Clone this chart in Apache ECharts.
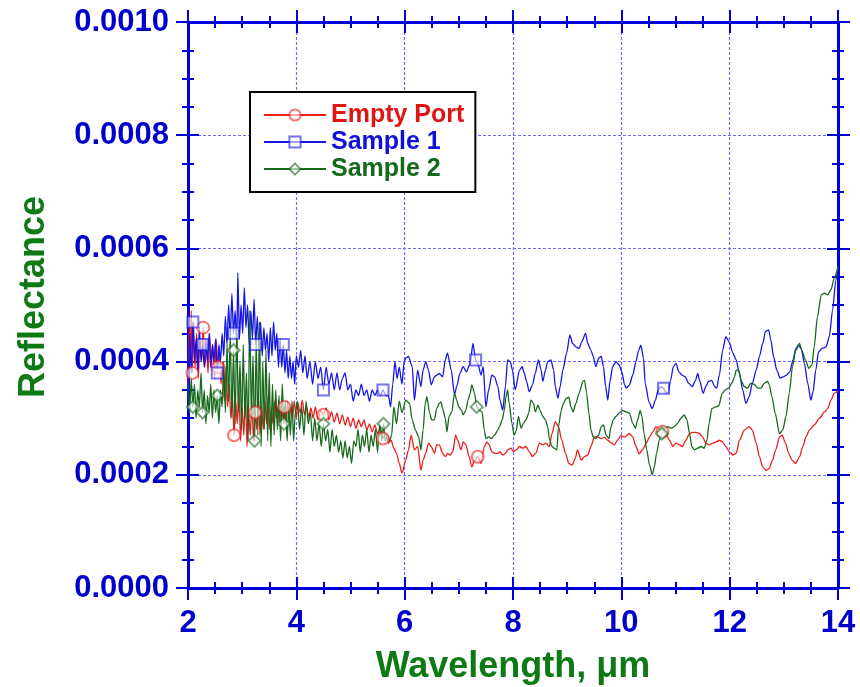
<!DOCTYPE html>
<html>
<head>
<meta charset="utf-8">
<title>Reflectance</title>
<script src="https://cdn.jsdelivr.net/npm/echarts@6/dist/echarts.min.js"></script>
<style>
    html, body { margin: 0; padding: 0; background: #fff; }
    #chart { width: 860px; height: 687px; }
</style>
</head>
<body>
<div id="chart"></div>
<script>
// wavelengths (um) where the hollow markers sit on every curve
var markerWavelengths = [2.09, 2.28, 2.55, 2.85, 3.24, 3.77, 4.49, 5.60, 7.32, 10.77];

// [wavelength um, reflectance]
var emptyPort = [
    [2.00,0.00036],[2.02,0.00046],[2.04,0.00040],[2.06,0.00049],[2.08,0.00038],[2.10,0.00047],[2.13,0.00039],[2.16,0.00045],
    [2.19,0.00037],[2.22,0.00044],[2.25,0.00040],[2.28,0.00046],[2.31,0.00039],[2.34,0.00043],[2.37,0.00038],[2.40,0.00045],
    [2.43,0.00039],[2.46,0.00043],[2.49,0.00037],[2.52,0.00044],[2.55,0.00039],[2.58,0.00042],[2.61,0.00036],[2.64,0.00040],
    [2.67,0.00033],[2.70,0.00039],[2.73,0.00032],[2.76,0.00036],[2.79,0.00030],[2.82,0.00034],[2.85,0.00027],[2.88,0.00033],
    [2.91,0.00029],[2.94,0.00035],[2.97,0.00026],[3.00,0.00032],[3.03,0.00027],[3.06,0.00034],[3.09,0.00025],[3.12,0.00031],
    [3.15,0.00027],[3.18,0.00033],[3.21,0.00026],[3.24,0.00031],[3.27,0.00028],[3.30,0.00034],[3.33,0.00027],[3.36,0.00032],
    [3.39,0.00028],[3.42,0.00033],[3.45,0.00029],[3.48,0.00034],[3.51,0.00028],[3.54,0.00032],[3.57,0.00029],[3.60,0.00033],
    [3.63,0.00030],[3.66,0.00032],[3.69,0.00029],[3.72,0.00033],[3.75,0.00030],[3.78,0.00032],[3.81,0.00029],[3.84,0.00033],
    [3.87,0.00030],[3.90,0.00032],[3.93,0.00030],[3.96,0.00033],[4.00,0.00030],
    [4.03,0.000327],[4.07,0.000309],[4.11,0.000332],[4.15,0.000306],[4.19,0.00032],[4.23,0.000302],[4.27,0.000318],[4.31,0.0003],
    [4.35,0.00032],[4.40,0.000297],[4.45,0.000314],[4.50,0.000306],[4.55,0.000318],[4.60,0.000297],[4.65,0.000311],[4.70,0.000293],
    [4.75,0.000309],[4.80,0.00029],[4.85,0.000306],[4.90,0.000288],[4.95,0.000302],[5.00,0.000285],[5.05,0.0003],[5.10,0.000282],
    [5.15,0.000297],[5.20,0.000285],[5.25,0.000297],[5.30,0.000279],[5.35,0.00029],[5.40,0.000276],[5.45,0.000288],[5.50,0.000273],
    [5.55,0.000282],[5.60,0.000264],[5.65,0.000273],[5.70,0.000256],[5.75,0.000261],[5.80,0.000247],[5.85,0.000238],[5.90,0.00022],
    [5.95,0.000203],
    [6.02,0.000226],[6.07,0.000244],[6.12,0.00027],[6.18,0.000244],[6.24,0.00025],[6.30,0.000208],[6.34,0.000226],[6.39,0.000238],
    [6.44,0.000256],[6.49,0.00025],[6.55,0.000238],[6.59,0.000253],[6.64,0.000253],[6.70,0.000238],[6.75,0.000232],[6.79,0.000238],
    [6.84,0.000235],[6.89,0.000241],[6.94,0.00027],[6.98,0.000261],[7.04,0.000244],[7.08,0.000258],[7.13,0.000253],[7.19,0.000232],
    [7.24,0.000214],[7.29,0.000226],[7.35,0.000232],[7.41,0.00022],[7.47,0.00025],[7.52,0.000258],[7.56,0.000253],[7.61,0.000241],
    [7.66,0.000238],[7.72,0.000238],[7.76,0.000241],[7.81,0.000235],[7.86,0.000238],[7.90,0.000244],[7.96,0.000247],[8.01,0.000241],
    [8.06,0.000244],[8.12,0.00025],[8.18,0.000247],[8.24,0.00025],[8.30,0.000241],[8.36,0.000232],[8.42,0.000238],[8.49,0.000256],
    [8.55,0.000253],[8.61,0.000256],[8.67,0.00025],[8.72,0.000273],[8.78,0.000294],[8.84,0.000285],[8.90,0.000261],[8.97,0.000238],
    [9.03,0.00022],[9.09,0.000217],[9.15,0.000229],[9.19,0.000244],[9.26,0.000226],[9.32,0.000232],[9.38,0.000235],[9.44,0.00025],
    [9.50,0.000267],[9.56,0.000267],[9.62,0.000264],[9.69,0.000266],[9.75,0.000261],[9.81,0.000257],[9.87,0.000253],[9.93,0.000261],
    [9.99,0.000269],[10.06,0.000267],[10.15,0.000273],[10.21,0.000267],[10.27,0.00025],[10.33,0.000237],[10.39,0.000244],[10.46,0.000256],
    [10.52,0.000267],[10.58,0.000276],[10.64,0.000285],[10.70,0.000282],[10.76,0.000276],[10.82,0.000273],[10.89,0.000261],[10.95,0.00025],
    [11.01,0.000256],[11.07,0.000253],[11.13,0.00025],[11.19,0.000261],[11.26,0.000273],[11.32,0.000275],[11.38,0.000275],[11.44,0.000273],
    [11.50,0.000267],[11.56,0.000256],[11.62,0.000253],[11.69,0.000256],[11.75,0.000258],[11.81,0.000261],[11.87,0.000258],[11.93,0.00025],
    [11.99,0.000241],[12.06,0.000235],[12.12,0.000238],[12.18,0.000261],[12.27,0.000279],[12.36,0.000285],[12.42,0.000279],[12.49,0.000256],
    [12.55,0.000232],[12.61,0.000214],[12.67,0.000208],[12.73,0.000211],[12.79,0.000226],[12.85,0.000244],[12.92,0.000267],[12.97,0.00027],
    [13.03,0.000256],[13.09,0.000238],[13.15,0.000226],[13.22,0.00022],[13.29,0.000232],[13.35,0.00025],[13.41,0.000267],[13.47,0.000279],
    [13.56,0.000288],[13.66,0.0003],[13.75,0.000311],[13.81,0.000317],[13.87,0.000332],[13.93,0.000344],[14.00,0.000348]
];

var sample1 = [
    [2.00,0.00035],[2.03,0.00045],[2.06,0.00038],[2.09,0.00047],[2.12,0.00040],[2.15,0.00044],[2.18,0.00038],[2.21,0.00046],
    [2.24,0.00040],[2.27,0.00043],[2.30,0.00039],[2.33,0.00044],[2.36,0.00040],[2.39,0.00045],[2.42,0.00039],[2.45,0.00043],
    [2.48,0.00040],[2.51,0.00044],[2.54,0.00038],[2.57,0.00043],[2.60,0.00040],[2.63,0.00045],[2.66,0.00041],[2.69,0.00048],
    [2.72,0.00043],[2.75,0.00050],[2.78,0.00044],[2.81,0.00052],[2.84,0.00045],[2.87,0.00049],[2.90,0.00043],[2.92,0.000557],
    [2.95,0.00044],[2.98,0.00050],[3.01,0.00045],[3.04,0.00053],[3.07,0.00046],[3.10,0.00050],[3.13,0.00043],[3.16,0.00049],
    [3.19,0.00044],[3.22,0.00051],[3.25,0.00043],[3.28,0.00048],[3.31,0.00042],[3.34,0.00047],[3.37,0.00041],[3.40,0.00046],
    [3.43,0.00042],[3.46,0.00045],[3.49,0.00040],[3.52,0.00046],[3.55,0.00041],[3.58,0.00047],[3.61,0.00042],[3.64,0.00045],
    [3.67,0.00039],[3.70,0.00044],[3.73,0.00039],[3.76,0.00043],[3.79,0.00038],[3.82,0.00042],[3.85,0.00037],[3.88,0.00041],
    [3.91,0.00037],[3.94,0.00040],[3.97,0.00036],[4.00,0.00041],
    [4.04,0.00039],[4.08,0.00042],[4.12,0.00038],[4.16,0.00041],[4.20,0.00037],[4.25,0.00040],[4.30,0.00036],[4.35,0.00040],
    [4.40,0.00037],[4.45,0.00039],[4.50,0.00035],[4.55,0.00039],[4.60,0.00036],[4.65,0.00038],[4.70,0.00035],[4.75,0.00038],
    [4.80,0.00035],[4.85,0.00037],[4.90,0.00038],[4.95,0.00035],[5.00,0.00036],[5.05,0.00033],[5.10,0.00035],[5.15,0.00034],
    [5.20,0.00036],[5.25,0.00034],[5.30,0.00035],[5.35,0.00033],[5.40,0.00035],[5.45,0.00034],[5.50,0.00035],[5.55,0.00034],
    [5.60,0.00035],[5.65,0.00034],[5.70,0.00034],[5.74,0.00032],[5.78,0.00036],[5.82,0.00040],[5.86,0.00037],[5.90,0.00039],
    [5.95,0.00036],[5.99,0.00040],
    [6.02,0.000406],[6.07,0.000409],[6.14,0.000391],[6.18,0.000332],[6.24,0.000385],[6.30,0.000356],[6.34,0.000385],[6.39,0.0004],
    [6.44,0.000385],[6.49,0.000359],[6.55,0.000373],[6.59,0.000376],[6.64,0.000379],[6.70,0.000373],[6.75,0.000403],[6.79,0.000415],
    [6.86,0.000385],[6.92,0.000341],[6.96,0.000356],[7.02,0.000379],[7.08,0.000391],[7.14,0.000382],[7.21,0.000397],[7.26,0.000432],
    [7.31,0.000403],[7.35,0.000397],[7.41,0.000376],[7.45,0.000391],[7.50,0.00032],[7.55,0.00035],[7.61,0.000376],[7.66,0.000373],
    [7.72,0.000356],[7.76,0.000332],[7.81,0.000314],[7.86,0.000356],[7.90,0.000403],[7.95,0.0004],[7.99,0.000385],[8.04,0.00035],
    [8.12,0.000385],[8.17,0.000391],[8.21,0.000379],[8.25,0.000365],[8.30,0.000347],[8.36,0.000359],[8.41,0.000379],[8.47,0.000403],
    [8.52,0.000385],[8.55,0.000365],[8.60,0.000385],[8.64,0.0004],[8.70,0.000403],[8.75,0.000385],[8.78,0.000356],[8.83,0.000335],
    [8.87,0.000356],[8.92,0.000385],[8.99,0.000415],[9.05,0.000447],[9.10,0.000432],[9.16,0.000426],[9.22,0.000423],[9.27,0.000435],
    [9.34,0.00045],[9.38,0.000432],[9.44,0.00042],[9.48,0.000409],[9.53,0.000391],[9.58,0.000406],[9.63,0.000409],[9.67,0.000391],
    [9.71,0.000356],[9.75,0.000332],[9.79,0.000365],[9.84,0.000391],[9.90,0.0004],[9.96,0.000394],[10.01,0.000382],[10.06,0.000359],
    [10.09,0.000353],[10.15,0.000359],[10.21,0.000376],[10.27,0.0004],[10.32,0.00042],[10.36,0.000429],[10.41,0.000406],[10.44,0.000362],
    [10.51,0.000329],[10.57,0.000317],[10.63,0.000332],[10.68,0.00035],[10.73,0.000356],[10.78,0.000353],[10.81,0.000347],[10.86,0.000344],
    [10.91,0.000367],[10.96,0.000391],[11.01,0.000397],[11.06,0.000382],[11.12,0.000376],[11.18,0.000373],[11.24,0.000362],[11.31,0.000356],
    [11.37,0.000367],[11.41,0.000379],[11.45,0.000365],[11.51,0.000344],[11.56,0.000356],[11.61,0.000365],[11.67,0.000367],[11.72,0.000356],
    [11.76,0.000353],[11.81,0.000376],[11.87,0.00042],[11.93,0.000444],[11.99,0.000435],[12.06,0.000415],
    [12.12,0.000403],[12.18,0.000379],[12.24,0.00035],[12.30,0.000326],[12.36,0.000338],[12.42,0.000362],[12.49,0.000385],[12.55,0.000409],
    [12.61,0.000432],[12.66,0.000453],[12.72,0.000456],[12.76,0.000438],[12.81,0.000409],[12.87,0.000385],[12.93,0.000371],[12.99,0.000373],
    [13.05,0.000376],[13.11,0.000382],[13.17,0.000403],[13.22,0.000423],[13.27,0.000429],[13.32,0.000423],[13.38,0.000397],[13.44,0.000362],
    [13.50,0.000332],[13.54,0.000347],[13.59,0.000385],[13.64,0.000417],[13.70,0.000423],[13.78,0.000426],[13.84,0.000444],[13.90,0.000491],
    [13.96,0.000544],[14.00,0.000565]
];

var sample2 = [
    [2.00,0.00036],[2.03,0.00031],[2.06,0.00037],[2.09,0.00032],[2.12,0.00036],[2.15,0.00030],[2.18,0.00035],[2.21,0.00032],
    [2.24,0.00038],[2.27,0.00031],[2.30,0.00035],[2.33,0.00029],[2.36,0.00034],[2.39,0.00031],[2.42,0.00036],[2.45,0.00030],
    [2.48,0.00035],[2.51,0.00031],[2.54,0.00034],[2.57,0.00029],[2.60,0.00035],[2.63,0.00032],[2.66,0.00040],[2.69,0.00031],
    [2.72,0.00043],[2.75,0.00033],[2.78,0.00045],[2.81,0.00030],[2.84,0.00042],[2.87,0.00029],[2.90,0.00046],[2.93,0.00031],
    [2.96,0.00040],[2.99,0.00028],[3.02,0.00043],[3.05,0.00030],[3.08,0.00038],[3.11,0.00026],[3.14,0.00049],[3.17,0.00030],
    [3.20,0.00041],[3.23,0.00026],[3.26,0.00044],[3.29,0.00027],[3.32,0.00047],[3.35,0.00025],[3.38,0.00040],[3.41,0.00028],
    [3.44,0.00042],[3.47,0.00026],[3.50,0.00038],[3.53,0.00025],[3.56,0.00036],[3.59,0.00027],[3.62,0.00035],[3.65,0.00028],
    [3.68,0.00034],[3.71,0.00026],[3.74,0.00036],[3.77,0.00029],[3.80,0.00033],[3.83,0.00026],[3.86,0.00032],[3.89,0.00027],
    [3.92,0.00033],[3.95,0.00026],[3.98,0.00031],
    [4.02,0.00033],[4.06,0.00028],[4.10,0.00032],[4.14,0.00027],[4.18,0.00033],[4.22,0.00029],[4.26,0.00031],[4.30,0.00026],
    [4.34,0.00030],[4.38,0.00026],[4.42,0.00029],[4.46,0.00025],[4.50,0.00029],[4.54,0.00026],[4.58,0.00028],[4.62,0.00024],
    [4.66,0.00028],[4.70,0.00025],[4.74,0.00027],[4.78,0.00024],[4.82,0.00026],[4.86,0.00023],[4.90,0.00026],[4.94,0.00023],
    [4.98,0.00025],[5.02,0.00022],[5.06,0.00026],[5.10,0.00025],[5.14,0.00028],[5.18,0.00024],[5.22,0.00027],[5.26,0.00025],
    [5.30,0.00028],[5.34,0.00024],[5.38,0.00027],[5.42,0.00025],[5.46,0.00028],[5.50,0.00024],[5.54,0.00029],[5.58,0.00026],
    [5.61,0.00029],[5.64,0.00026],[5.68,0.00027],[5.72,0.00026],[5.76,0.00027],[5.80,0.00032],[5.85,0.00029],[5.90,0.00033],
    [5.95,0.00031],
    [6.02,0.000332],[6.09,0.000326],[6.14,0.000297],[6.20,0.000279],[6.26,0.000267],[6.30,0.000244],[6.34,0.000279],[6.38,0.000326],
    [6.41,0.000338],[6.46,0.000309],[6.50,0.000297],[6.55,0.000297],[6.59,0.000317],[6.64,0.000326],[6.67,0.000329],[6.70,0.000317],
    [6.75,0.0003],[6.78,0.000276],[6.82,0.000303],[6.87,0.000311],[6.92,0.000344],[6.96,0.000332],[7.00,0.00032],[7.05,0.000314],
    [7.08,0.000306],[7.13,0.000314],[7.17,0.000332],[7.21,0.000344],[7.24,0.000359],[7.29,0.000344],[7.33,0.00032],[7.38,0.000314],
    [7.43,0.000311],[7.47,0.000279],[7.50,0.000264],[7.55,0.000267],[7.60,0.000264],[7.66,0.00027],[7.72,0.000279],[7.75,0.000285],
    [7.80,0.000297],[7.84,0.000314],[7.87,0.000338],[7.90,0.00035],[7.93,0.000326],[7.98,0.000291],[8.02,0.00027],
    [8.06,0.000278],[8.10,0.000303],[8.15,0.000282],[8.19,0.000291],[8.24,0.000297],[8.29,0.000309],[8.33,0.000332],[8.38,0.000326],
    [8.41,0.000311],[8.46,0.000323],[8.50,0.000314],[8.55,0.000303],[8.60,0.000297],[8.64,0.000285],[8.67,0.000264],[8.72,0.00025],
    [8.76,0.000247],[8.81,0.000244],[8.84,0.000285],[8.89,0.000314],[8.93,0.000326],[8.98,0.000335],[9.03,0.000337],[9.07,0.00032],
    [9.11,0.000311],[9.16,0.000326],[9.22,0.000344],[9.29,0.000365],[9.32,0.000367],[9.36,0.000344],[9.40,0.000309],[9.44,0.000279],
    [9.48,0.000267],[9.53,0.000264],[9.58,0.00027],[9.63,0.000285],[9.67,0.000288],[9.72,0.00027],[9.77,0.000264],[9.81,0.000285],
    [9.85,0.000297],[9.90,0.000303],[9.96,0.000309],[10.02,0.000314],[10.09,0.000311],
    [10.15,0.000309],[10.21,0.000291],[10.26,0.000282],[10.30,0.000297],[10.35,0.000314],[10.38,0.000303],[10.42,0.000273],[10.47,0.000244],
    [10.52,0.000217],[10.57,0.0002],[10.61,0.000214],[10.65,0.000238],[10.70,0.000261],[10.75,0.000273],[10.79,0.000282],[10.86,0.000285],
    [10.92,0.000282],[10.98,0.000285],[11.04,0.000291],[11.10,0.0003],[11.16,0.000306],[11.21,0.000297],[11.26,0.000273],[11.30,0.00025],
    [11.35,0.000244],[11.41,0.000247],[11.47,0.00025],[11.53,0.000247],[11.58,0.000261],[11.62,0.000291],[11.67,0.000317],[11.74,0.00032],
    [11.80,0.000322],[11.86,0.000344],[11.92,0.00035],[11.98,0.000353],[12.04,0.000362],[12.09,0.000373],
    [12.12,0.000385],[12.17,0.000385],[12.21,0.000367],[12.27,0.000356],[12.33,0.000353],[12.39,0.000362],[12.45,0.00036],[12.52,0.000353],
    [12.58,0.000353],[12.64,0.000362],[12.70,0.000365],[12.73,0.000359],[12.78,0.000338],[12.84,0.000309],[12.92,0.000273],[12.98,0.000279],
    [13.04,0.000303],[13.10,0.000344],[13.16,0.000391],[13.22,0.00042],[13.29,0.000432],[13.33,0.00042],[13.40,0.000403],[13.46,0.000388],
    [13.52,0.000394],[13.56,0.000426],[13.62,0.000479],[13.69,0.000518],[13.75,0.000521],[13.81,0.000518],[13.87,0.000527],[13.93,0.000547],
    [14.00,0.000568]
];

var seriesNames = ['Empty Port', 'Sample 1', 'Sample 2'];

var axisBlue = '#0000dd';
var labelBlue = '#0000cc';
var titleGreen = '#0e7a14';
var gridBlue = '#6c6cff';
var colRed = '#ee1c1c';
var colBlue = '#1414e6';
var colGreen = '#17691c';
var fontFam = '"Liberation Sans", Arial, sans-serif';

// keep the marker only on the point nearest each marker wavelength
function withMarkers(points) {
    var keep = {};
    markerWavelengths.forEach(function (w) {
        var best = 0;
        for (var i = 1; i < points.length; i++) {
            if (Math.abs(points[i][0] - w) < Math.abs(points[best][0] - w)) best = i;
        }
        keep[best] = true;
    });
    return points.map(function (p, i) {
        return keep[i] ? {value: p} : {value: p, symbol: 'none'};
    });
}

// kind: 'main' = axis line, labels, grid lines; 'major' / 'minor' = ticks crossing the frame
function makeX(gridIndex, position, kind) {
    var main = kind === 'main';
    var primary = main && position === 'bottom';
    return {
        type: 'value', gridIndex: gridIndex, position: position,
        min: 2, max: 14, interval: 2,
        offset: kind === 'major' ? -11 : (kind === 'minor' ? -6 : 0),
        axisLine: {show: main, onZero: false, lineStyle: {color: axisBlue, width: 3}},
        axisTick: {show: kind === 'major', length: 23, lineStyle: {color: axisBlue, width: 2}},
        minorTick: {show: kind === 'minor', splitNumber: 4, length: 12, lineStyle: {color: axisBlue, width: 2}},
        axisLabel: {
            show: primary, margin: 20, color: labelBlue, fontSize: 31, fontWeight: 'bold', fontFamily: fontFam
        },
        splitLine: {show: primary, lineStyle: {color: gridBlue, width: 1.2, type: [3, 2]}},
        name: primary ? 'Wavelength, \u03bcm' : '',
        nameLocation: 'middle', nameGap: 61, nameMoveOverlap: false,
        nameTextStyle: {color: titleGreen, fontSize: 36, fontWeight: 'bold', fontFamily: fontFam}
    };
}

function makeY(gridIndex, position, kind) {
    var main = kind === 'main';
    var primary = main && position === 'left';
    return {
        type: 'value', gridIndex: gridIndex, position: position,
        min: 0, max: 0.001, interval: 0.0002,
        offset: kind === 'major' ? -11 : (kind === 'minor' ? -6 : 0),
        axisLine: {show: main, onZero: false, lineStyle: {color: axisBlue, width: 3}},
        axisTick: {show: kind === 'major', length: 23, lineStyle: {color: axisBlue, width: 2}},
        minorTick: {show: kind === 'minor', splitNumber: 4, length: 12, lineStyle: {color: axisBlue, width: 2}},
        axisLabel: {
            show: primary, margin: 19, color: labelBlue, fontSize: 31, fontWeight: 'bold', fontFamily: fontFam,
            formatter: function (v) { return v.toFixed(4); }
        },
        splitLine: {show: primary, lineStyle: {color: gridBlue, width: 1.2, type: [3, 2]}},
        name: primary ? 'Reflectance' : '',
        nameLocation: 'middle', nameGap: 136, nameRotate: 90, nameMoveOverlap: false,
        nameTextStyle: {color: titleGreen, fontSize: 36, fontWeight: 'bold', fontFamily: fontFam, padding: [0, 0, 0, 16]}
    };
}

function lineSeries(name, points, color, symbol, size) {
    return {
        name: name, type: 'line', xAxisIndex: 0, yAxisIndex: 0,
        data: withMarkers(points),
        symbol: symbol, symbolSize: size, showSymbol: true,
        smooth: 0.25, smoothMonotone: 'x',
        lineStyle: {color: color, width: 1.3},
        itemStyle: {color: color, opacity: 0.6},
        emphasis: {disabled: true},
        animation: false,
        z: 3
    };
}

// empty series so the tick-only grids keep their axes
function frameSeries(xi, yi) {
    return {type: 'line', xAxisIndex: xi, yAxisIndex: yi, data: [], silent: true, symbol: 'none'};
}

function plotBox() {
    return {left: 188, top: 22, width: 650, height: 566, containLabel: false, outerBoundsMode: 'none'};
}

var myChart = echarts.init(document.getElementById('chart'));
var option = {
    backgroundColor: '#fff',
    animation: false,
    grid: [plotBox(), plotBox(), plotBox()],
    xAxis: [
        makeX(0, 'bottom', 'main'),
        makeX(0, 'top', 'main'),
        makeX(1, 'bottom', 'major'),
        makeX(1, 'top', 'major'),
        makeX(2, 'bottom', 'minor'),
        makeX(2, 'top', 'minor')
    ],
    yAxis: [
        makeY(0, 'left', 'main'),
        makeY(0, 'right', 'main'),
        makeY(1, 'left', 'major'),
        makeY(1, 'right', 'major'),
        makeY(2, 'left', 'minor'),
        makeY(2, 'right', 'minor')
    ],
    legend: {
        orient: 'vertical', left: 250, top: 92,
        itemWidth: 62, itemHeight: 14, itemGap: 1,
        padding: [10, 11, 10, 13],
        borderColor: '#000', borderWidth: 2, backgroundColor: '#fff',
        selectedMode: false,
        textStyle: {fontSize: 25, fontWeight: 'bold', fontFamily: fontFam, lineHeight: 26},
        data: [
            {name: seriesNames[0], textStyle: {color: '#e01414'}},
            {name: seriesNames[1], textStyle: {color: '#1010d8'}},
            {name: seriesNames[2], textStyle: {color: '#146a1a'}}
        ]
    },
    series: [
        lineSeries(seriesNames[0], emptyPort, colRed, 'emptyCircle', 12),
        lineSeries(seriesNames[1], sample1, colBlue, 'emptyRect', 11),
        lineSeries(seriesNames[2], sample2, colGreen, 'emptyDiamond', 12),
        frameSeries(1, 1),
        frameSeries(2, 2),
        frameSeries(3, 3),
        frameSeries(4, 4),
        frameSeries(5, 5)
    ]
};
myChart.setOption(option);
</script>
</body>
</html>
